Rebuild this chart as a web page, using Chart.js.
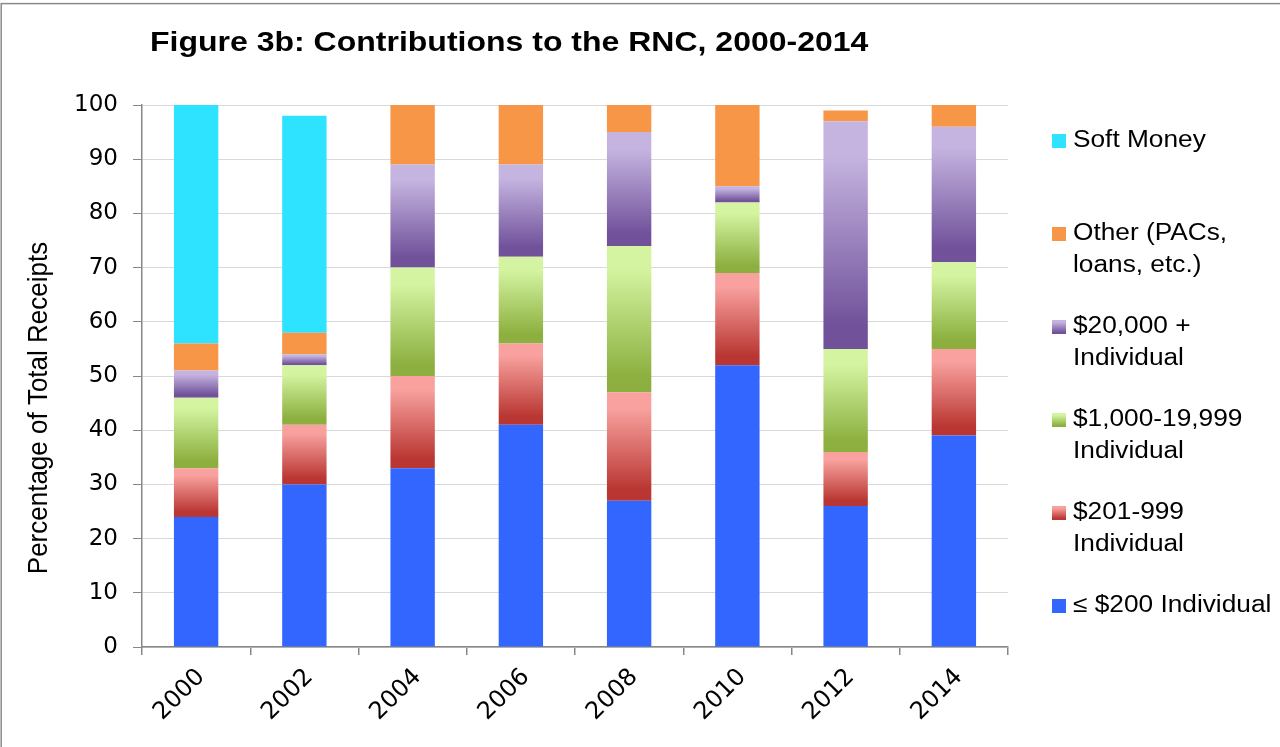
<!DOCTYPE html>
<html>
<head>
<meta charset="utf-8">
<title>Contributions to the RNC, 2000-2014</title>
<script src="https://cdn.jsdelivr.net/npm/chart.js@4.4.1/dist/chart.umd.min.js"></script>
<style>
  html, body { margin: 0; padding: 0; background: #ffffff; overflow: hidden; }
  #wrap { position: relative; width: 1280px; height: 747px; }
  canvas { display: block; }
</style>
</head>
<body>
<div id="wrap"><canvas id="chart" width="1280" height="747"></canvas></div>
<script>
// Election cycles
const years = ['2000', '2002', '2004', '2006', '2008', '2010', '2012', '2014'];

// Share of total receipts (%) by source, bottom of the stack first
const under200 = [24, 30, 33, 41, 27, 52, 26, 39];
const from201to999 = [9, 11, 17, 15, 20, 17, 10, 16];
const from1000to19999 = [13, 11, 20, 16, 27, 13, 19, 16];
const over20000 = [5, 2, 19, 17, 21, 3, 42, 25];
const otherSources = [5, 4, 11, 11, 5, 15, 2, 4];
const softMoney = [44, 40, null, null, null, null, null, null];

// Y axis ticks
const yTicks = [0, 10, 20, 30, 40, 50, 60, 70, 80, 90, 100];

// Series labels (legend lines)
const labelUnder200 = ['\u2264 $200 Individual'];
const label201 = ['$201-999', 'Individual'];
const label1000 = ['$1,000-19,999', 'Individual'];
const label20000 = ['$20,000 +', 'Individual'];
const labelOther = ['Other (PACs,', 'loans, etc.)'];
const labelSoft = ['Soft Money'];

const TITLE = 'Figure 3b: Contributions to the RNC, 2000-2014';
const Y_TITLE = 'Percentage of Total Receipts';

// Fill styles: solid colour, or [light top, dark bottom] for shaded segments
const fills = {
  under200: '#3366FF',
  r201: ['#F8A19E', '#B93632'],
  r1000: ['#D4F4A1', '#8CAF3F'],
  r20000: ['#C5B4E0', '#70519A'],
  other: '#F79646',
  soft: '#2DE3FF'
};

const seriesValues = [under200, from201to999, from1000to19999, over20000, otherSources, softMoney];

function shade(ctx, fill, topPx, bottomPx) {
  const g = ctx.createLinearGradient(0, topPx, 0, bottomPx);
  g.addColorStop(0, fill[0]);
  g.addColorStop(0.15, fill[0]);
  g.addColorStop(0.9, fill[1]);
  g.addColorStop(1, fill[1]);
  return g;
}

// Gradient per stacked segment, spanning that segment only
function segmentFill(fill) {
  if (typeof fill === 'string') return fill;
  return function (c) {
    if (c.type !== 'data') return fill[0];
    const chart = c.chart;
    const y = chart.scales.y;
    if (!y || !chart.chartArea) return fill[0];
    let base = 0;
    for (let d = 0; d < c.datasetIndex; d++) base += seriesValues[d][c.dataIndex] || 0;
    const v = seriesValues[c.datasetIndex][c.dataIndex] || 0;
    const top = y.getPixelForValue(base + v);
    const bottom = y.getPixelForValue(base);
    if (!isFinite(top) || !isFinite(bottom) || bottom - top < 0.5) return fill[0];
    return shade(chart.ctx, fill, top, bottom);
  };
}

function makeSet(label, data, fill) {
  return {
    label: label,
    data: data,
    legendLines: label,
    legendFill: fill,
    backgroundColor: segmentFill(fill),
    borderWidth: 0,
    barPercentage: 0.41,
    categoryPercentage: 1.0
  };
}

const datasets = [
  makeSet(labelUnder200, under200, fills.under200),
  makeSet(label201, from201to999, fills.r201),
  makeSet(label1000, from1000to19999, fills.r1000),
  makeSet(label20000, over20000, fills.r20000),
  makeSet(labelOther, otherSources, fills.other),
  makeSet(labelSoft, softMoney, fills.soft)
];

const SANS = '"Liberation Sans", Arial, sans-serif';
const WIDE = '"DejaVu Sans", sans-serif';

function wideText(ctx, text, x, y, sx) {
  ctx.save();
  ctx.translate(x, y);
  ctx.scale(sx, 1);
  ctx.fillText(text, 0, 0);
  ctx.restore();
}

// Frame, title, axis title and legend
const decor = {
  id: 'decor',
  afterDraw(chart) {
    const ctx = chart.ctx;
    const area = chart.chartArea;
    ctx.save();

    // outer frame
    ctx.strokeStyle = '#8a8a8a';
    ctx.lineWidth = 1.5;
    ctx.strokeRect(1.2, 3.6, 1400, 1000);

    // chart title
    ctx.fillStyle = '#000';
    ctx.font = 'bold 28px ' + SANS;
    ctx.textAlign = 'left';
    ctx.textBaseline = 'alphabetic';
    wideText(ctx, TITLE, 150, 51, 1.143);

    // y axis title
    ctx.save();
    ctx.translate(39, 408);
    ctx.scale(1.05, 1);
    ctx.rotate(-Math.PI / 2);
    ctx.font = '26px ' + SANS;
    ctx.textAlign = 'center';
    ctx.textBaseline = 'middle';
    ctx.fillText(Y_TITLE, 0, 0);
    ctx.restore();

    // legend, top of the stack first
    const lx = area.right + 44;
    const tx = area.right + 65;
    const firstY = 141;
    const step = 93;
    const lineH = 31.5;
    const box = 14;
    ctx.font = '23.3px ' + SANS;
    ctx.textAlign = 'left';
    ctx.textBaseline = 'middle';
    const order = chart.data.datasets.slice().reverse();
    order.forEach((ds, i) => {
      const cy = firstY + i * step;
      const f = ds.legendFill;
      ctx.fillStyle = typeof f === 'string' ? f : shade(ctx, f, cy - box / 2, cy + box / 2);
      ctx.fillRect(lx, cy - box / 2, box, box);
      ctx.fillStyle = '#000';
      ds.legendLines.forEach((line, j) => {
        wideText(ctx, line, tx, cy + j * lineH, 1.127);
      });
    });
    ctx.restore();
  }
};

new Chart(document.getElementById('chart'), {
  type: 'bar',
  data: { labels: years, datasets: datasets },
  options: {
    responsive: false,
    devicePixelRatio: 1,
    animation: false,
    events: [],
    layout: { padding: { left: 0, right: 272, top: 105, bottom: 0 } },
    plugins: {
      legend: { display: false },
      title: { display: false },
      tooltip: { enabled: false }
    },
    scales: {
      x: {
        stacked: true,
        offset: true,
        grid: {
          offset: true,
          drawOnChartArea: false,
          drawTicks: true,
          tickLength: 8,
          color: '#878787',
          lineWidth: 1.5
        },
        border: { display: true, color: '#878787', width: 1.5 },
        ticks: {
          autoSkip: false,
          minRotation: 45,
          maxRotation: 45,
          padding: 8,
          labelOffset: 5,
          color: '#000',
          font: { family: WIDE, size: 24 }
        },
        afterFit(s) { s.height = 100; }
      },
      y: {
        stacked: true,
        min: yTicks[0],
        max: yTicks[yTicks.length - 1],
        afterBuildTicks(s) { s.ticks = yTicks.map(v => ({ value: v })); },
        grid: {
          color: '#d9d9d9',
          lineWidth: 1,
          tickColor: '#878787',
          tickLength: 9,
          drawTicks: true
        },
        border: { display: true, color: '#878787', width: 1.5 },
        ticks: {
          padding: 15,
          color: '#000',
          font: { family: WIDE, size: 23 }
        },
        afterFit(s) { s.width = 142; }
      }
    }
  },
  plugins: [decor]
});
</script>
</body>
</html>
